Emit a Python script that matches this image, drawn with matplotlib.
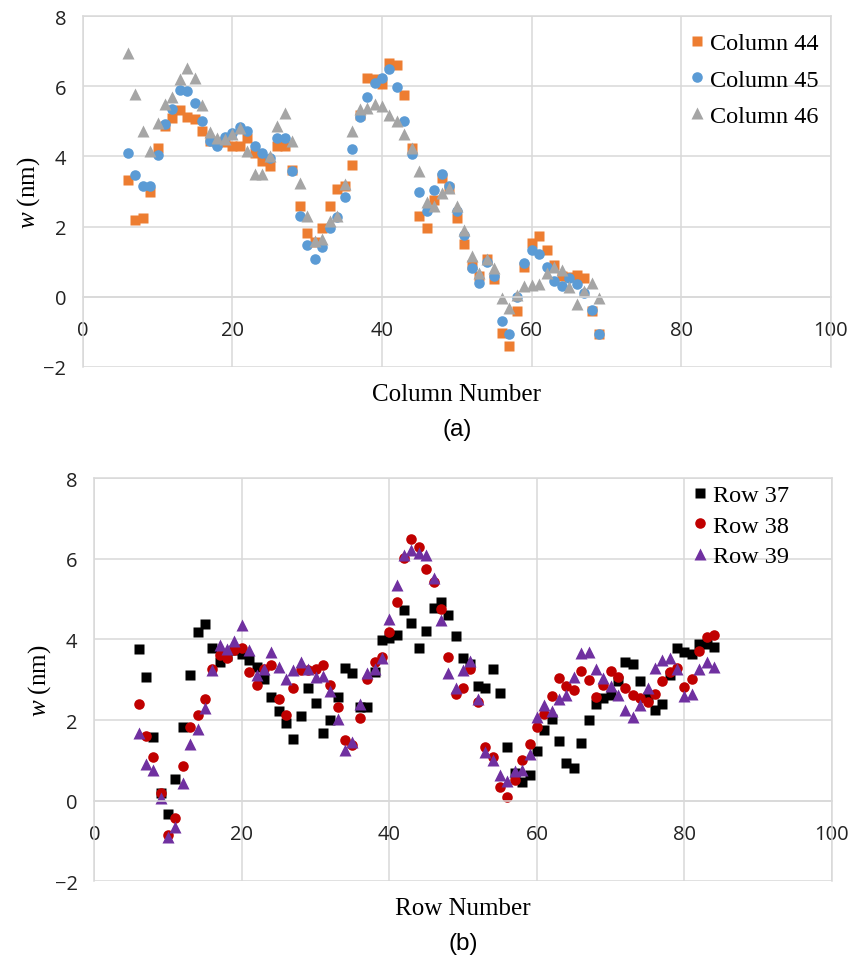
import numpy as np
import matplotlib.pyplot as plt

# ---------------------------------------------------------------- data (a)
cols = list(range(6, 70))
col44 = [3.34, 2.20, 2.25, 2.98, 4.25, 4.87, 5.10, 5.34, 5.13, 5.06, 4.72, 4.44,
         4.40, 4.40, 4.29, 4.29, 4.53, 4.10, 3.87, 3.72, 4.29, 4.29, 3.60, 2.58,
         1.82, 1.55, 1.96, 2.58, 3.08, 3.17, 3.77, 5.17, 6.25, 6.20, 6.06, 6.68,
         6.60, 5.74, 4.25, 2.31, 1.96, 2.77, 3.39, 3.10, 2.25, 1.50, 0.89, 0.58,
         1.06, 0.50, -1.04, -1.42, -0.42, 0.85, 1.53, 1.72, 1.34, 0.91, 0.58, 0.55,
         0.63, 0.53, -0.42, -1.06]
col45 = [4.10, 3.47, 3.17, 3.15, 4.03, 4.93, 5.36, 5.91, 5.87, 5.53, 5.01, 4.44,
         4.31, 4.56, 4.68, 4.85, 4.72, 4.29, 4.09, 3.95, 4.53, 4.53, 3.58, 2.31,
         1.46, 1.08, 1.42, 1.97, 2.28, 2.85, 4.20, 5.13, 5.71, 6.10, 6.25, 6.49,
         5.98, 5.01, 4.06, 2.98, 2.44, 3.03, 3.50, 3.15, 2.44, 1.77, 0.83, 0.38,
         0.98, 0.58, -0.71, -1.06, 0.00, 0.96, 1.32, 1.23, 0.85, 0.44, 0.31, 0.53,
         0.37, 0.10, -0.37, -1.06]
col46 = [6.96, 5.77, 4.72, 4.15, 4.96, 5.49, 5.70, 6.20, 6.53, 6.25, 5.47, 4.69,
         4.53, 4.49, 4.63, 4.82, 4.15, 3.49, 3.49, 4.01, 4.87, 5.25, 4.44, 3.25,
         2.29, 1.58, 1.63, 2.15, 2.29, 3.20, 4.72, 5.36, 5.39, 5.49, 5.44, 5.17,
         5.01, 4.63, 4.25, 3.58, 2.70, 2.60, 2.96, 3.10, 2.58, 1.91, 1.15, 0.68,
         1.08, 0.82, -0.04, -0.32, 0.06, 0.31, 0.34, 0.37, 0.68, 0.85, 0.75, 0.28,
         -0.20, 0.15, 0.39, -0.04]

# ---------------------------------------------------------------- data (b)
rows = list(range(6, 85))
row37 = [3.76, 3.06, 1.59, 0.18, -0.32, 0.55, 1.84, 3.13, 4.18, 4.38, 3.80, 3.45,
         3.60, 3.75, 3.65, 3.49, 3.33, 3.03, 2.58, 2.23, 1.94, 1.54, 2.11, 2.79,
         2.43, 1.69, 2.00, 2.58, 3.30, 3.16, 2.33, 2.33, 3.20, 3.99, 4.04, 4.11,
         4.73, 4.40, 3.78, 4.21, 4.79, 4.92, 4.61, 4.09, 3.55, 3.40, 2.84, 2.79,
         3.27, 2.68, 1.34, 0.68, 0.47, 0.65, 1.23, 1.75, 2.04, 1.48, 0.93, 0.80,
         1.42, 2.00, 2.39, 2.56, 2.62, 2.97, 3.43, 3.38, 2.97, 2.58, 2.25, 2.39,
         3.12, 3.80, 3.70, 3.63, 3.90, 3.90, 3.82]
row38 = [2.41, 1.60, 1.09, 0.18, -0.84, -0.44, 0.87, 1.84, 2.12, 2.52, 3.27, 3.61,
         3.53, 3.74, 3.78, 3.20, 2.87, 3.28, 3.36, 2.52, 2.13, 2.79, 3.25, 3.24,
         3.27, 3.36, 2.87, 2.33, 1.50, 1.38, 2.06, 3.03, 3.45, 3.57, 4.18, 4.94,
         6.03, 6.49, 6.30, 5.75, 5.42, 4.75, 3.57, 2.65, 2.79, 3.28, 2.46, 1.34,
         1.09, 0.35, 0.10, 0.51, 1.01, 1.40, 1.84, 2.14, 2.60, 3.05, 2.85, 2.74,
         3.22, 2.99, 2.58, 2.87, 3.22, 3.08, 2.79, 2.62, 2.54, 2.46, 2.66, 2.97,
         3.20, 3.30, 2.83, 3.03, 3.71, 4.07, 4.11]
row39 = [1.69, 0.90, 0.76, 0.06, -0.89, -0.65, 0.43, 1.40, 1.78, 2.31, 3.24, 3.86,
         3.76, 3.96, 4.37, 3.74, 3.12, 3.28, 3.70, 3.31, 3.03, 3.24, 3.45, 3.27,
         3.08, 3.10, 2.72, 2.03, 1.26, 1.45, 2.41, 3.16, 3.27, 3.53, 4.51, 5.35,
         6.09, 6.22, 6.15, 6.09, 5.52, 4.48, 3.16, 2.80, 3.24, 3.47, 2.52, 1.20,
         1.01, 0.64, 0.49, 0.73, 0.76, 1.17, 2.08, 2.37, 2.22, 2.52, 2.62, 3.08,
         3.66, 3.70, 3.27, 3.05, 2.84, 2.62, 2.25, 2.08, 2.37, 2.80, 3.30, 3.49,
         3.53, 3.27, 2.60, 2.66, 3.27, 3.43, 3.33]

xticks = [0, 20, 40, 60, 80, 100]
yticks = [-2, 0, 2, 4, 6, 8]

plt.rcParams['mathtext.fontset'] = 'custom'
plt.rcParams['mathtext.it'] = 'Liberation Serif:italic'
plt.rcParams['mathtext.rm'] = 'Liberation Serif'

grid_c = '#d9d9d9'


def opmaak(ax, xlabel, panel, legend_pos, spacing):
    ax.set_xlim(0, 100)
    ax.set_ylim(-2, 8)
    ax.set_xticks(xticks)
    ax.set_yticks(yticks)
    ax.set_axisbelow(True)
    ax.grid(True, color=grid_c, lw=1.1)
    for s in ax.spines.values():
        s.set_color(grid_c)
        s.set_linewidth(1.1)
    ax.spines['bottom'].set_position(('data', 0))
    ax.tick_params(axis='x', length=0, pad=17, colors='#222222')
    ax.tick_params(axis='y', length=0, pad=12, colors='#222222')
    for lab in ax.get_xticklabels() + ax.get_yticklabels():
        lab.set_fontfamily('Open Sans')
        lab.set_fontsize(14.5)
    ax.set_ylabel('$w$ (nm)', family='Liberation Serif', fontsize=18, labelpad=1)
    # titels onder de grafiek, vaste afstand in pixels
    ax.annotate(xlabel, (0.5, 0), xycoords='axes fraction',
                xytext=(0, -27), textcoords='offset pixels',
                ha='center', va='center', family='Liberation Serif', size=18)
    ax.annotate(panel, (0.5, 0), xycoords='axes fraction',
                xytext=(0, -62), textcoords='offset pixels',
                ha='center', va='center', family='Liberation Sans', size=17.5)
    ax.legend(loc='upper left', bbox_to_anchor=legend_pos, frameon=False,
              prop=dict(family='Liberation Serif', size=17.5),
              handlelength=0.5, handletextpad=0.3, labelspacing=spacing,
              borderpad=0, borderaxespad=0)


fig = plt.figure(figsize=(8.5, 9.62), dpi=100)

# (a)
ax1 = fig.add_axes([0.0973, 0.6178, 0.8803, 0.3642])
ax1.plot(cols, col44, 's', ms=7, color='#ED7D31', mec='none', label='Column 44')
ax1.plot(cols, col45, 'o', ms=7.6, color='#5B9BD5', mec='none', label='Column 45')
ax1.plot(cols, col46, '^', ms=8.2, color='#A5A5A5', mec='none', label='Column 46')
opmaak(ax1, 'Column Number', '(a)', (0.813, 0.954), 0.58)

# (b)
ax2 = fig.add_axes([0.1109, 0.0828, 0.8679, 0.4190])
ax2.plot(rows, row37, 's', ms=7, color='#000000', mec='none', label='Row 37')
ax2.plot(rows, row38, 'o', ms=7.6, color='#C00000', mec='none', label='Row 38')
ax2.plot(rows, row39, '^', ms=8.2, color='#7030A0', mec='none', label='Row 39')
opmaak(ax2, 'Row Number', '(b)', (0.813, 0.985), 0.35)

fig.savefig('out.png', dpi=100)
